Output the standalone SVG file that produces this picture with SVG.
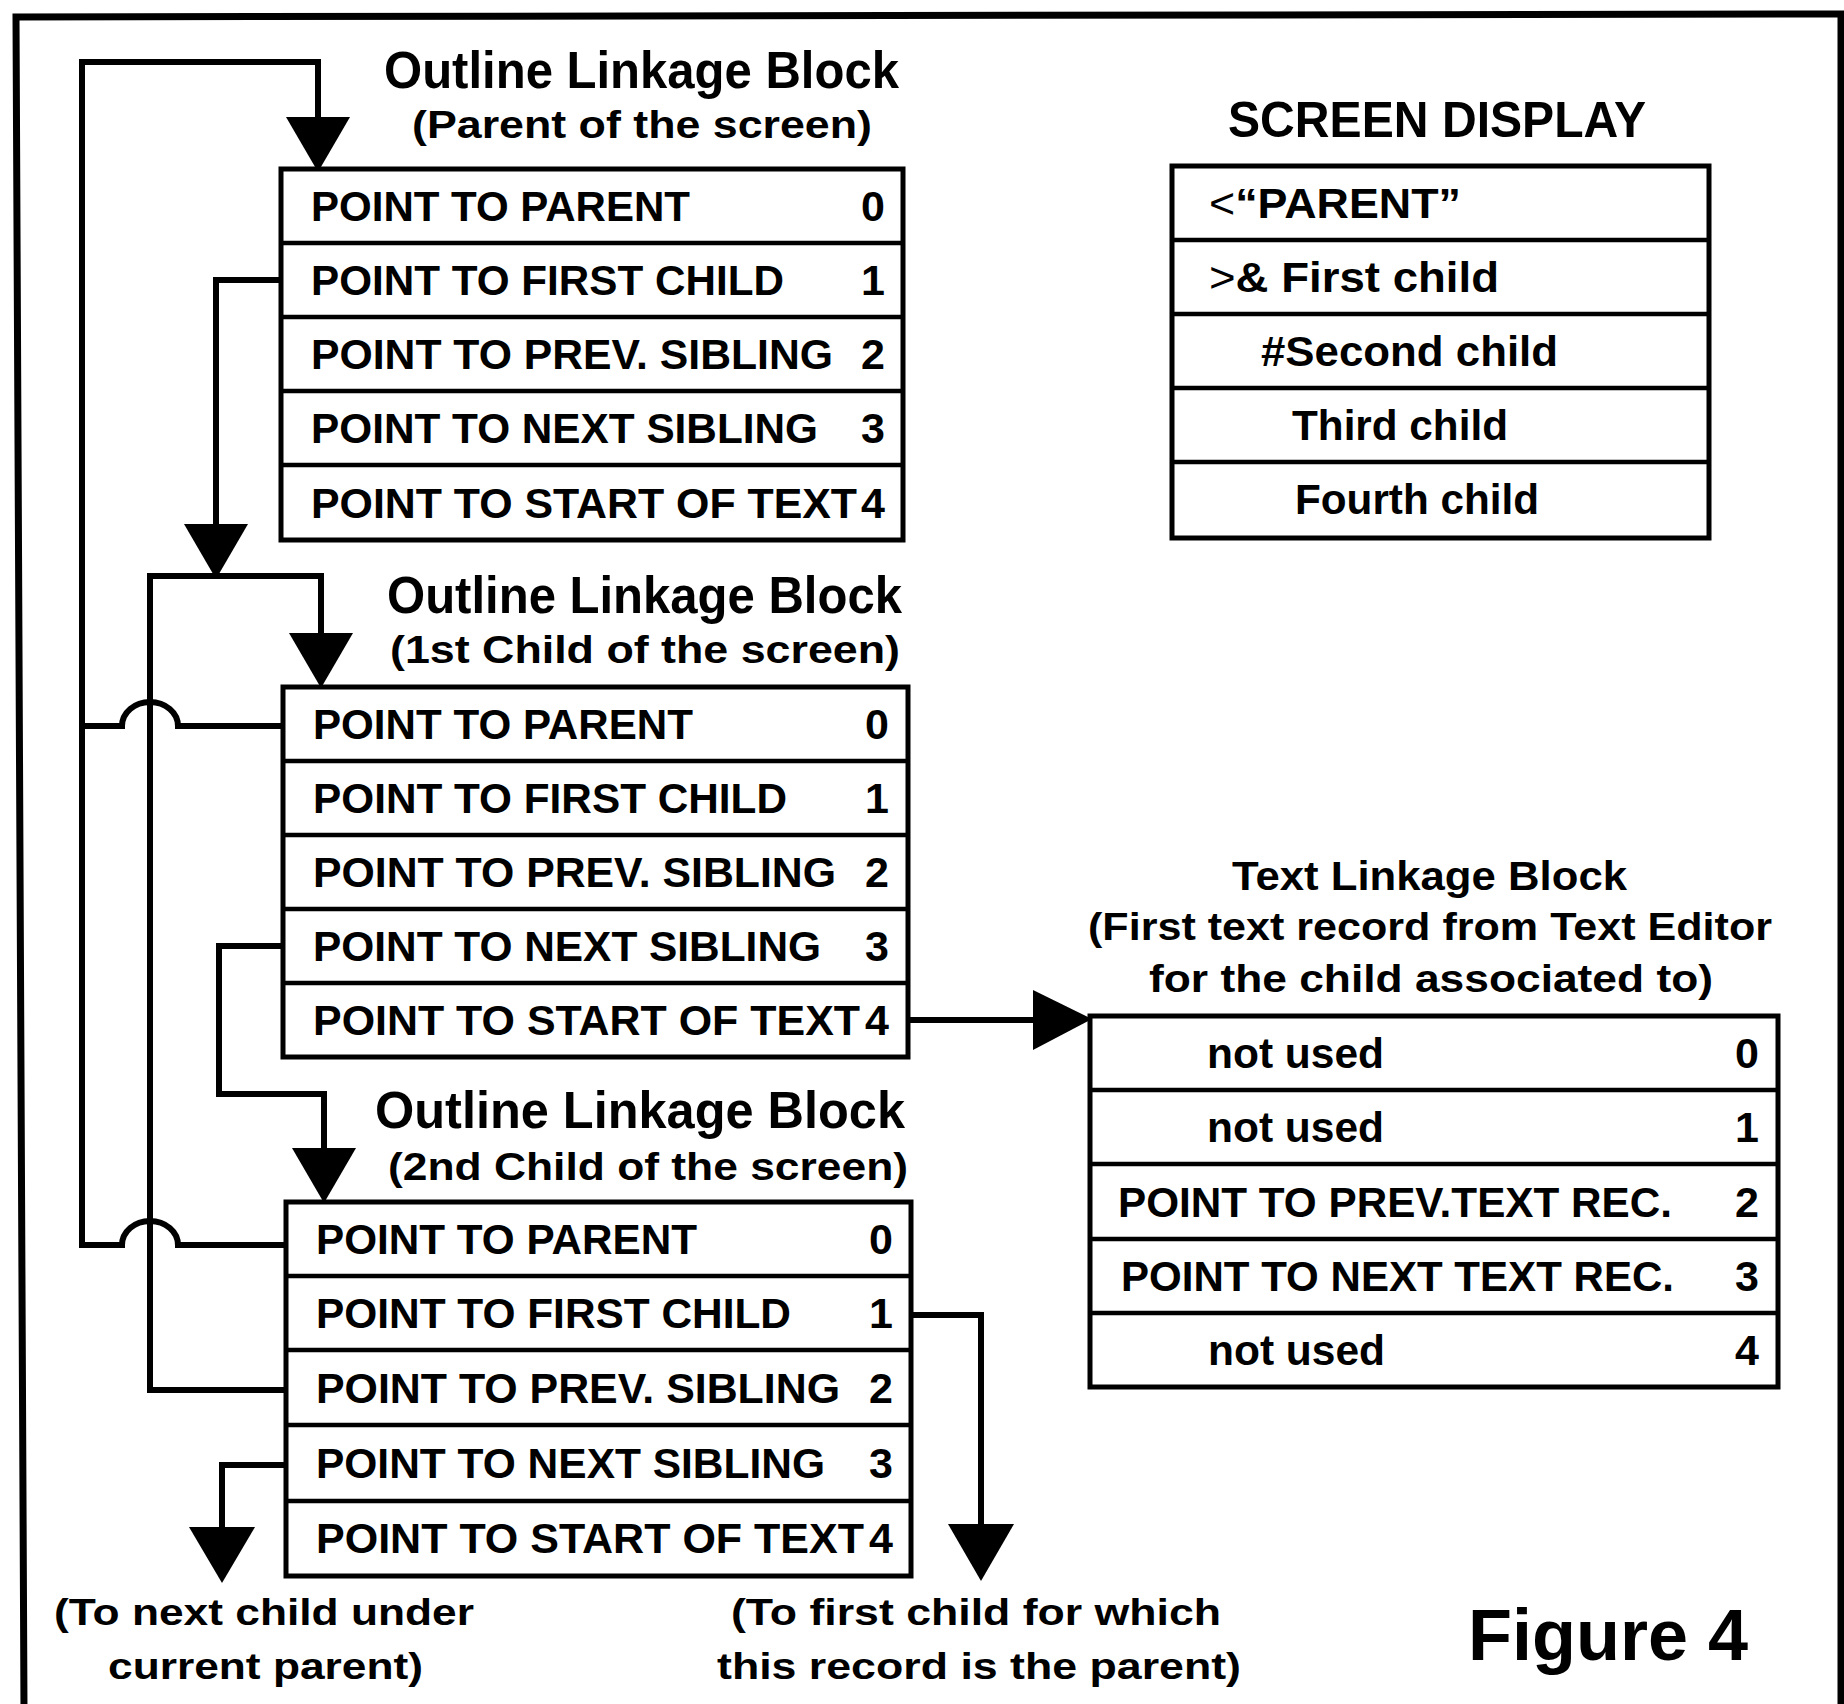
<svg xmlns="http://www.w3.org/2000/svg" width="1844" height="1704" viewBox="0 0 1844 1704">
  <style>
    text { font-family: "Liberation Sans", Arial, sans-serif; font-weight: bold; fill: #000; }
    .title { font-size: 52px; }
    .sub { font-size: 39px; }
    .row { font-size: 43px; }
    .num { font-size: 43px; text-anchor: end; }
    .note { font-size: 37px; }
    .fig { font-size: 72px; }
    .thin { font-weight: normal; }
    .box { fill: #fff; stroke: #000; stroke-width: 5; }
    .sep { stroke: #000; stroke-width: 4.5; }
    .wire { fill: none; stroke: #000; stroke-width: 6; stroke-linejoin: miter; }
    .head { fill: #000; }
  </style>

  <!-- outer frame -->
  <path d="M 24 1710 L 16 17 L 1841 14 L 1841 1710" fill="none" stroke="#000" stroke-width="7"/>

  <!-- connectors -->
  <g id="connectors">
    <!-- parent pointers loop back to the top block -->
    <path class="wire" d="M 318 122 V 62 H 82 V 1245 H 122 A 28 24 0 0 1 178 1245 H 286"/>
    <path class="wire" d="M 82 726 H 122 A 28 24 0 0 1 178 726 H 283"/>
    <polygon class="head" points="286,117 350,117 318,172"/>

    <!-- first child of the top block -->
    <path class="wire" d="M 281 280 H 216 V 530"/>
    <polygon class="head" points="184,524 248,524 216,579"/>

    <!-- sibling bus: feeds the 1st child, returns from the 2nd child's prev-sibling -->
    <path class="wire" d="M 150 1390 V 576 H 321 V 640"/>
    <path class="wire" d="M 286 1390 H 147"/>
    <polygon class="head" points="289,633 353,633 321,688"/>

    <!-- next sibling of the 1st child -->
    <path class="wire" d="M 283 946 H 219 V 1094 H 324 V 1152"/>
    <polygon class="head" points="292,1148 356,1148 324,1203"/>

    <!-- next sibling of the 2nd child -->
    <path class="wire" d="M 286 1465 H 222 V 1532"/>
    <polygon class="head" points="189,1527 255,1527 222,1583"/>

    <!-- first child of the 2nd child -->
    <path class="wire" d="M 911 1315 H 981 V 1530"/>
    <polygon class="head" points="948,1524 1014,1524 981,1581"/>

    <!-- start of text of the 1st child -->
    <path class="wire" d="M 908 1020 H 1040"/>
    <polygon class="head" points="1033,990 1033,1050 1092,1019"/>
  </g>

  <!-- outline linkage block: parent -->
  <g id="block-parent">
    <text class="title" x="384" y="88" textLength="515" lengthAdjust="spacingAndGlyphs">Outline Linkage Block</text>
    <text class="sub" x="412" y="138" textLength="460" lengthAdjust="spacingAndGlyphs">(Parent of the screen)</text>
    <rect class="box" x="281" y="169" width="622" height="371"/>
    <line class="sep" x1="281" y1="243" x2="903" y2="243"/>
    <line class="sep" x1="281" y1="317" x2="903" y2="317"/>
    <line class="sep" x1="281" y1="391" x2="903" y2="391"/>
    <line class="sep" x1="281" y1="465" x2="903" y2="465"/>
    <text class="row" x="311" y="221" textLength="379" lengthAdjust="spacingAndGlyphs">POINT TO PARENT</text>
    <text class="row" x="311" y="295" textLength="473" lengthAdjust="spacingAndGlyphs">POINT TO FIRST CHILD</text>
    <text class="row" x="311" y="369" textLength="522" lengthAdjust="spacingAndGlyphs">POINT TO PREV. SIBLING</text>
    <text class="row" x="311" y="443" textLength="507" lengthAdjust="spacingAndGlyphs">POINT TO NEXT SIBLING</text>
    <text class="row" x="311" y="518" textLength="546" lengthAdjust="spacingAndGlyphs">POINT TO START OF TEXT</text>
    <text class="num" x="885" y="221">0</text>
    <text class="num" x="885" y="295">1</text>
    <text class="num" x="885" y="369">2</text>
    <text class="num" x="885" y="443">3</text>
    <text class="num" x="885" y="518">4</text>
  </g>

  <!-- outline linkage block: 1st child -->
  <g id="block-child1">
    <text class="title" x="387" y="613" textLength="515" lengthAdjust="spacingAndGlyphs">Outline Linkage Block</text>
    <text class="sub" x="390" y="663" textLength="510" lengthAdjust="spacingAndGlyphs">(1st Child of the screen)</text>
    <rect class="box" x="283" y="687" width="625" height="370"/>
    <line class="sep" x1="283" y1="761" x2="908" y2="761"/>
    <line class="sep" x1="283" y1="835" x2="908" y2="835"/>
    <line class="sep" x1="283" y1="909" x2="908" y2="909"/>
    <line class="sep" x1="283" y1="983" x2="908" y2="983"/>
    <text class="row" x="313" y="739" textLength="380" lengthAdjust="spacingAndGlyphs">POINT TO PARENT</text>
    <text class="row" x="313" y="813" textLength="474" lengthAdjust="spacingAndGlyphs">POINT TO FIRST CHILD</text>
    <text class="row" x="313" y="887" textLength="523" lengthAdjust="spacingAndGlyphs">POINT TO PREV. SIBLING</text>
    <text class="row" x="313" y="961" textLength="508" lengthAdjust="spacingAndGlyphs">POINT TO NEXT SIBLING</text>
    <text class="row" x="313" y="1035" textLength="547" lengthAdjust="spacingAndGlyphs">POINT TO START OF TEXT</text>
    <text class="num" x="889" y="739">0</text>
    <text class="num" x="889" y="813">1</text>
    <text class="num" x="889" y="887">2</text>
    <text class="num" x="889" y="961">3</text>
    <text class="num" x="889" y="1035">4</text>
  </g>

  <!-- outline linkage block: 2nd child -->
  <g id="block-child2">
    <text class="title" x="375" y="1128" textLength="530" lengthAdjust="spacingAndGlyphs">Outline Linkage Block</text>
    <text class="sub" x="388" y="1180" textLength="520" lengthAdjust="spacingAndGlyphs">(2nd Child of the screen)</text>
    <rect class="box" x="286" y="1202" width="625" height="374"/>
    <line class="sep" x1="286" y1="1276" x2="911" y2="1276"/>
    <line class="sep" x1="286" y1="1350" x2="911" y2="1350"/>
    <line class="sep" x1="286" y1="1425" x2="911" y2="1425"/>
    <line class="sep" x1="286" y1="1501" x2="911" y2="1501"/>
    <text class="row" x="316" y="1254" textLength="381" lengthAdjust="spacingAndGlyphs">POINT TO PARENT</text>
    <text class="row" x="316" y="1328" textLength="475" lengthAdjust="spacingAndGlyphs">POINT TO FIRST CHILD</text>
    <text class="row" x="316" y="1403" textLength="524" lengthAdjust="spacingAndGlyphs">POINT TO PREV. SIBLING</text>
    <text class="row" x="316" y="1478" textLength="509" lengthAdjust="spacingAndGlyphs">POINT TO NEXT SIBLING</text>
    <text class="row" x="316" y="1553" textLength="548" lengthAdjust="spacingAndGlyphs">POINT TO START OF TEXT</text>
    <text class="num" x="893" y="1254">0</text>
    <text class="num" x="893" y="1328">1</text>
    <text class="num" x="893" y="1403">2</text>
    <text class="num" x="893" y="1478">3</text>
    <text class="num" x="893" y="1553">4</text>
  </g>

  <!-- screen display -->
  <g id="screen-display">
    <text class="title" x="1228" y="137" style="font-size:50px" textLength="418" lengthAdjust="spacingAndGlyphs">SCREEN DISPLAY</text>
    <rect class="box" x="1172" y="166" width="537" height="372"/>
    <line class="sep" x1="1172" y1="240" x2="1709" y2="240"/>
    <line class="sep" x1="1172" y1="314" x2="1709" y2="314"/>
    <line class="sep" x1="1172" y1="388" x2="1709" y2="388"/>
    <line class="sep" x1="1172" y1="462" x2="1709" y2="462"/>
    <text class="row" x="1209" y="218" textLength="252" lengthAdjust="spacingAndGlyphs"><tspan class="thin">&lt;</tspan>“PARENT”</text>
    <text class="row" x="1209" y="292" textLength="290" lengthAdjust="spacingAndGlyphs"><tspan class="thin">&gt;</tspan>&amp; First child</text>
    <text class="row" x="1261" y="366" textLength="297" lengthAdjust="spacingAndGlyphs">#Second child</text>
    <text class="row" x="1292" y="440" textLength="216" lengthAdjust="spacingAndGlyphs">Third child</text>
    <text class="row" x="1295" y="514" textLength="244" lengthAdjust="spacingAndGlyphs">Fourth child</text>
  </g>

  <!-- text linkage block -->
  <g id="text-linkage">
    <text class="sub" x="1232" y="890" style="font-size:41px" textLength="395" lengthAdjust="spacingAndGlyphs">Text Linkage Block</text>
    <text class="sub" x="1088" y="940" textLength="684" lengthAdjust="spacingAndGlyphs">(First text record from Text Editor</text>
    <text class="sub" x="1149" y="992" textLength="564" lengthAdjust="spacingAndGlyphs">for the child associated to)</text>
    <rect class="box" x="1090" y="1016" width="688" height="371"/>
    <line class="sep" x1="1090" y1="1090" x2="1778" y2="1090"/>
    <line class="sep" x1="1090" y1="1164" x2="1778" y2="1164"/>
    <line class="sep" x1="1090" y1="1239" x2="1778" y2="1239"/>
    <line class="sep" x1="1090" y1="1313" x2="1778" y2="1313"/>
    <text class="row" x="1207" y="1068" textLength="177" lengthAdjust="spacingAndGlyphs">not used</text>
    <text class="row" x="1207" y="1142" textLength="177" lengthAdjust="spacingAndGlyphs">not used</text>
    <text class="row" x="1118" y="1217" textLength="554" lengthAdjust="spacingAndGlyphs">POINT TO PREV.TEXT REC.</text>
    <text class="row" x="1121" y="1291" textLength="553" lengthAdjust="spacingAndGlyphs">POINT TO NEXT TEXT REC.</text>
    <text class="row" x="1208" y="1365" textLength="177" lengthAdjust="spacingAndGlyphs">not used</text>
    <text class="num" x="1759" y="1068">0</text>
    <text class="num" x="1759" y="1142">1</text>
    <text class="num" x="1759" y="1217">2</text>
    <text class="num" x="1759" y="1291">3</text>
    <text class="num" x="1759" y="1365">4</text>
  </g>

  <!-- arrow labels -->
  <g id="label-next-child">
    <text class="note" x="54" y="1625" textLength="420" lengthAdjust="spacingAndGlyphs">(To next child under</text>
    <text class="note" x="108" y="1679" textLength="315" lengthAdjust="spacingAndGlyphs">current parent)</text>
  </g>
  <g id="label-first-child">
    <text class="note" x="731" y="1625" textLength="490" lengthAdjust="spacingAndGlyphs">(To first child for which</text>
    <text class="note" x="717" y="1679" textLength="524" lengthAdjust="spacingAndGlyphs">this record is the parent)</text>
  </g>

  <text class="fig" x="1468" y="1660">Figure 4</text>
</svg>
